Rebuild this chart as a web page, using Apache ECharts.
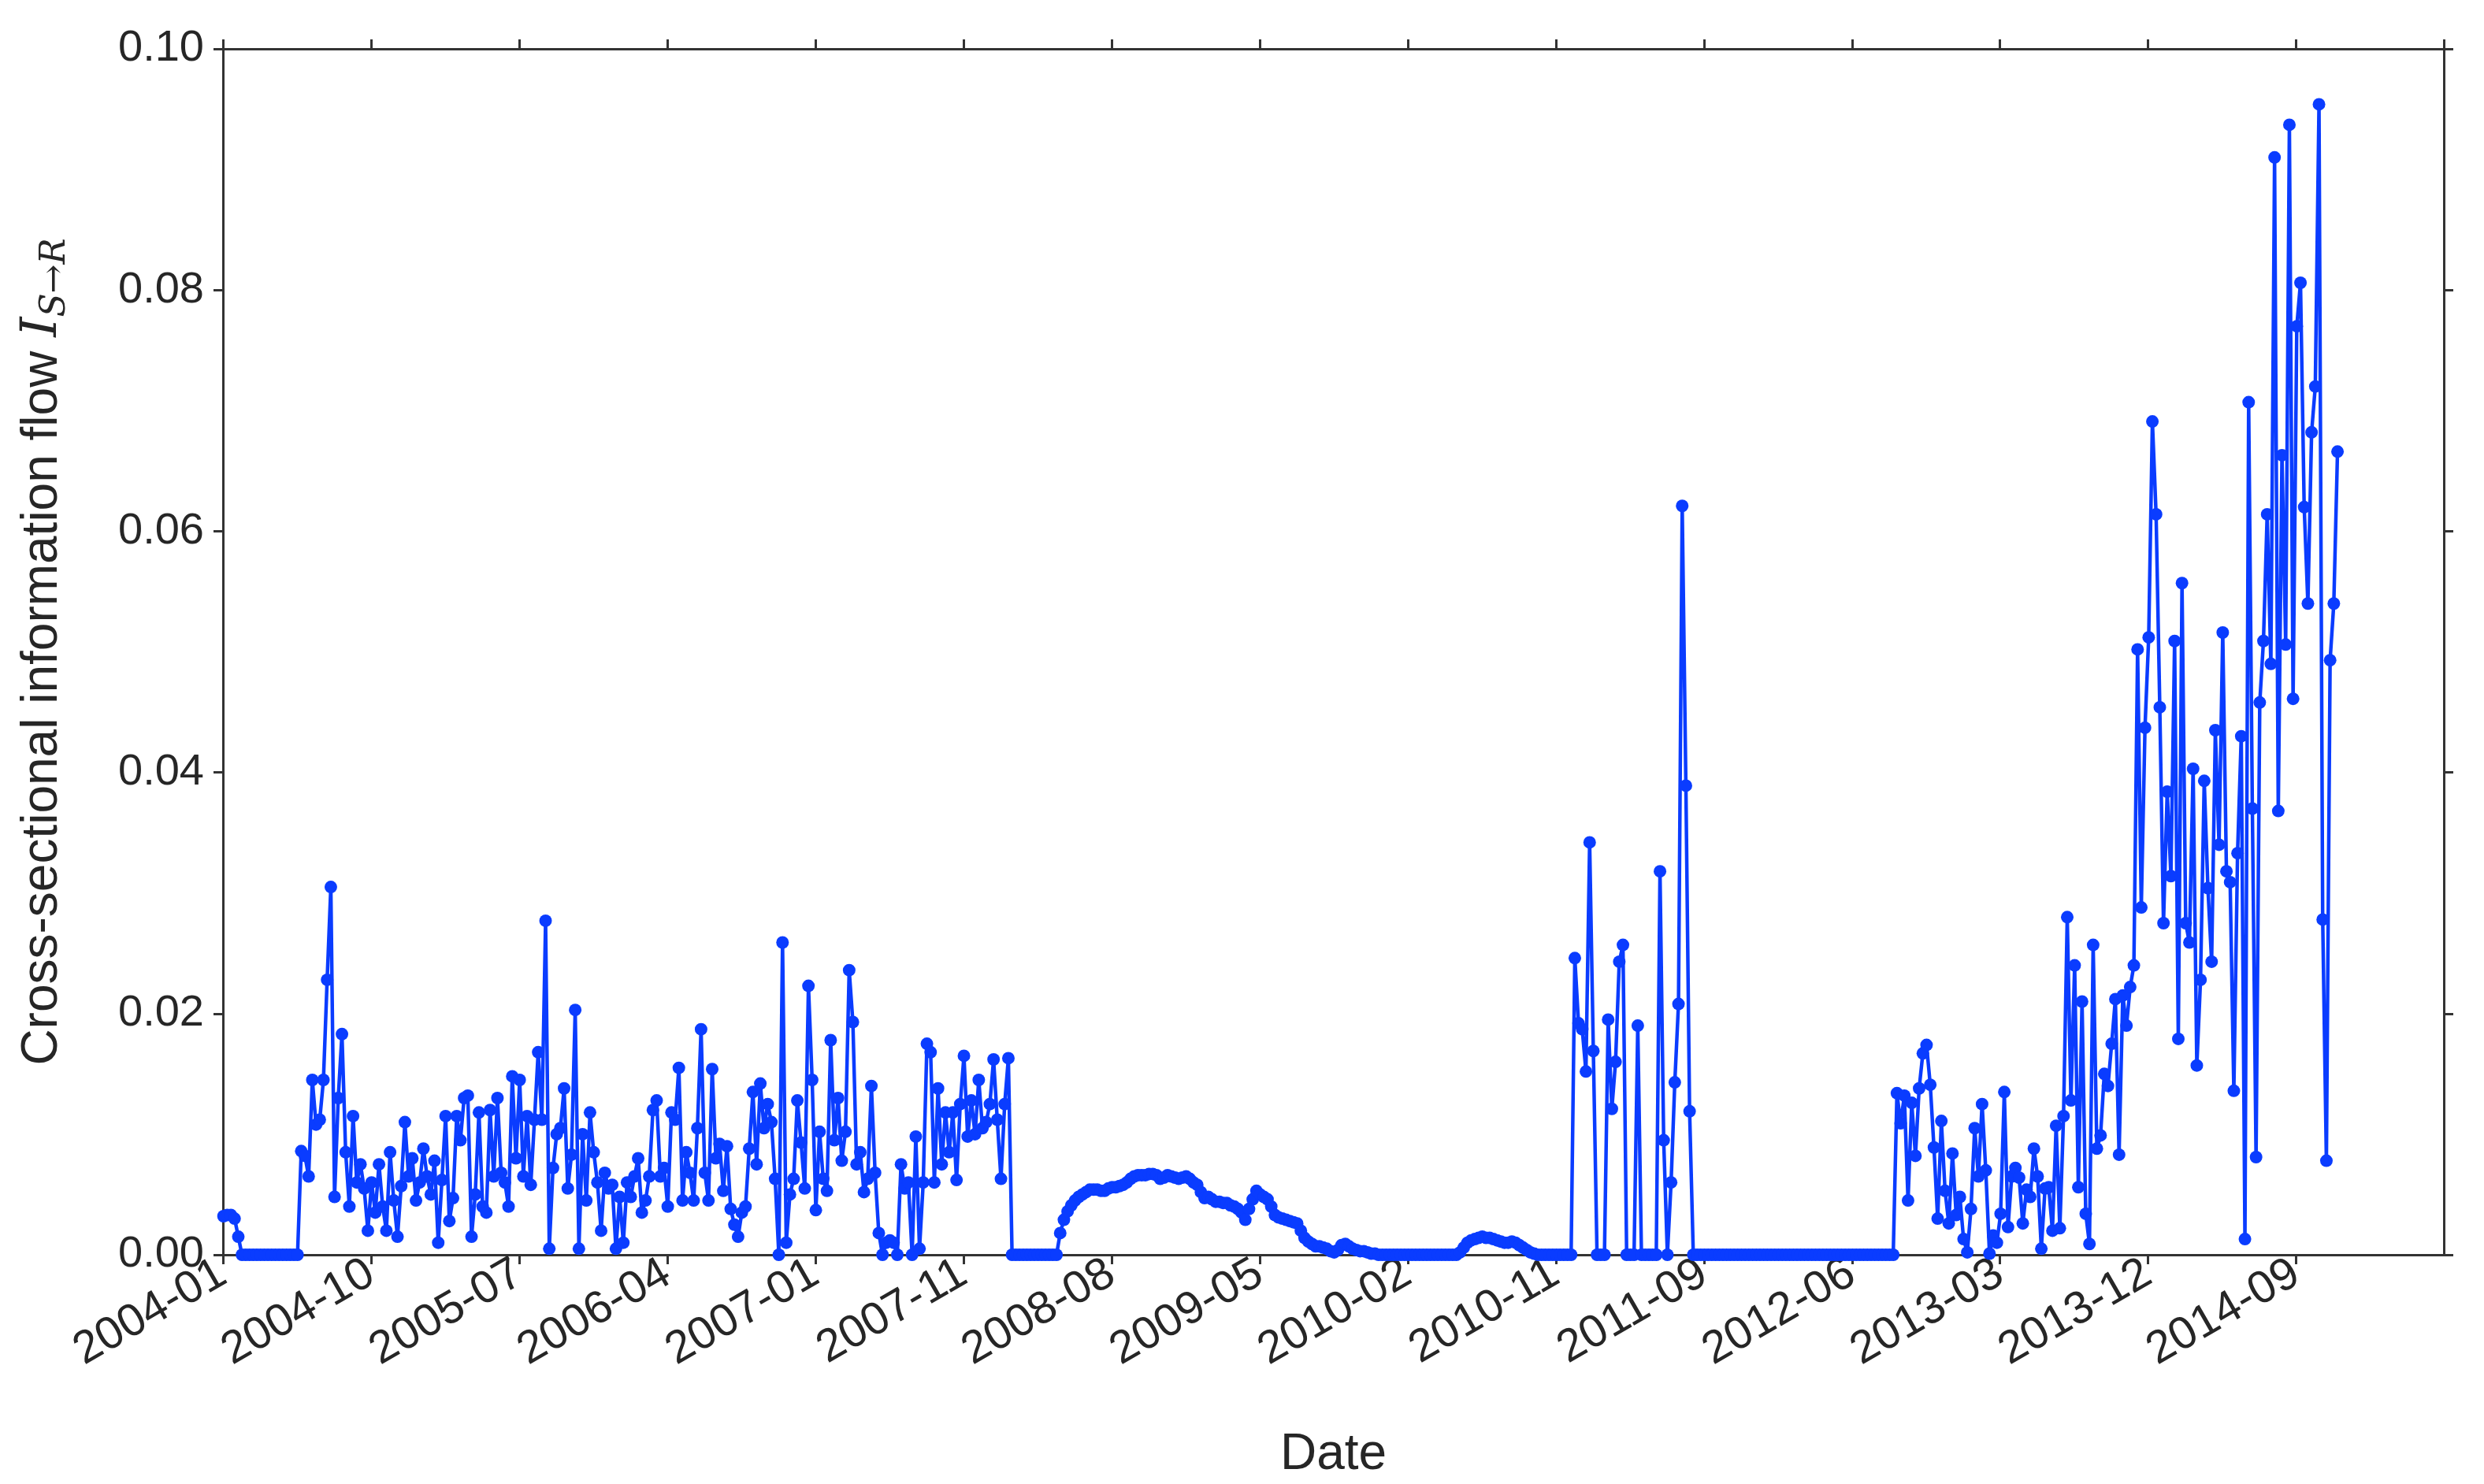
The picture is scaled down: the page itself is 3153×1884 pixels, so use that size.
<!DOCTYPE html>
<html>
<head>
<meta charset="utf-8">
<script src="https://cdn.jsdelivr.net/npm/echarts@6/dist/echarts.min.js"></script>
<style>
html, body { margin: 0; padding: 0; background: #fff; }
#chart { width: 3153px; height: 1884px; }
</style>
</head>
<body>
<div id="chart"></div>
<script>
// weekly observations, first one on 2004-01-02; each block gives its first week index
var startDate = Date.UTC(2004, 0, 1);
var firstWeekDay = 1;

var block2004 = [0.0032, 0.0033, 0.0033, 0.0030, 0.0015];
var noisyStart = 21;
var noisy2004 = [
    0.0086, 0.0082, 0.0065, 0.0145, 0.0108, 0.0112, 0.0145,
    0.0228, 0.0305, 0.0048, 0.013, 0.0183,
    0.0085, 0.004, 0.0115, 0.006, 0.0075, 0.0055, 0.002, 0.006, 0.0035, 0.0075, 0.004, 0.002, 0.0085, 0.0045, 0.0015, 0.0057, 0.011, 0.0065, 0.008, 0.0045, 0.006, 0.0088, 0.0065,
    0.005, 0.0078, 0.001, 0.0062, 0.0115, 0.0028, 0.0047, 0.0115, 0.0095, 0.013, 0.0132, 0.0015, 0.005, 0.0118, 0.004, 0.0035, 0.012, 0.0065, 0.013, 0.0068, 0.006, 0.004, 0.0148, 0.008, 0.0145, 0.0065, 0.0115, 0.0058, 0.0112, 0.0168, 0.0112,
    0.0277,
    0.0005, 0.0072, 0.01, 0.0105, 0.0138, 0.0055, 0.0083,
    0.0203,
    0.0005, 0.01, 0.0045, 0.0118, 0.0085, 0.006, 0.002, 0.0068, 0.0055, 0.0058, 0.0005, 0.0048, 0.001, 0.006, 0.0048, 0.0065, 0.008, 0.0035, 0.0045, 0.0065, 0.012, 0.0128, 0.0065, 0.0072, 0.004, 0.0118, 0.0112, 0.0155, 0.0045, 0.0085, 0.0068, 0.0045, 0.0105,
    0.0187,
    0.0068, 0.0045, 0.0154, 0.008, 0.0092, 0.0053, 0.009, 0.0038, 0.0025, 0.0015, 0.0035, 0.004, 0.0088, 0.0135, 0.0075, 0.0142, 0.0105, 0.0125, 0.011, 0.0063, 0.0,
    0.0259,
    0.001, 0.005, 0.0063, 0.0128, 0.0093, 0.0055,
    0.0223,
    0.0145, 0.0037, 0.0102, 0.0063, 0.0053, 0.0178, 0.0095, 0.013, 0.0078, 0.0102,
    0.0236, 0.0193,
    0.0075, 0.0085, 0.0052, 0.0063, 0.014, 0.0068,
    0.0018, 0, 0.001, 0.0012, 0.001, 0, 0.0075, 0.0055, 0.006,
    0.0, 0.0098, 0.0005, 0.006,
    0.0175,
    0.0168, 0.006, 0.0138, 0.0075, 0.0118, 0.0085, 0.0118, 0.0062, 0.0125,
    0.0165,
    0.0098, 0.0128, 0.010, 0.0145, 0.0105, 0.011, 0.0125,
    0.0162,
    0.0112, 0.0063, 0.0125,
    0.0163
];
var humpStart = 226;
var hump2008 = [
    0.0018,
    0.0029, 0.0036, 0.0041, 0.0045, 0.0048,
    0.005, 0.0052, 0.0054, 0.0054, 0.0054, 0.0053, 0.0053, 0.0055, 0.0056,
    0.0056, 0.0057, 0.0058, 0.006, 0.0063, 0.0065, 0.0066, 0.0066, 0.0066, 0.0067,
    0.0067, 0.0066, 0.0063, 0.0064, 0.0066, 0.0065, 0.0064, 0.0063, 0.0064, 0.0065,
    0.0063, 0.006, 0.0058, 0.0052, 0.0047, 0.0048, 0.0046, 0.0044, 0.0044, 0.0043,
    0.0043, 0.0041, 0.004, 0.0038, 0.0035, 0.0029, 0.0038, 0.0046, 0.0053, 0.005,
    0.0048, 0.0046, 0.004, 0.0033, 0.0031, 0.003, 0.0029, 0.0028, 0.0027, 0.0026,
    0.002, 0.0014, 0.0011, 0.0009, 0.0007, 0.0007, 0.0006, 0.0005, 0.0003, 0.0002,
    0.0004, 0.0008, 0.0009, 0.0007, 0.0005, 0.0004, 0.0003, 0.0003, 0.0002, 0.0001, 0.0001, 0, 0, 0
];
var bumpStart = 334;
var bump2010 = [0.0002, 0.0006, 0.001, 0.0012, 0.0013, 0.0014, 0.0015, 0.0014, 0.0014, 0.0013, 0.0012,
    0.0011, 0.001, 0.001, 0.0011, 0.001, 0.0008, 0.0006, 0.0004, 0.0002, 0.0001, 0];
var spikeStart = 365;
var spikes2011 = [0.0246, 0.0192, 0.0187, 0.0152, 0.0342, 0.0169, 0, 0, 0, 0.0195, 0.0121, 0.016, 0.0243, 0.0257,
    0, 0, 0, 0.019, 0, 0, 0, 0, 0, 0.0318, 0.0095, 0, 0.006, 0.0143, 0.0208, 0.0621, 0.0389, 0.0119];
var lateStart = 452;
var late2012 = [
    0.0134, 0.0109, 0.0132, 0.0045, 0.0126, 0.0082, 0.0138, 0.0167, 0.0174, 0.0141,
    0.0089, 0.003, 0.0111, 0.0053, 0.0026, 0.0084, 0.0033, 0.0048, 0.0013, 0.0002,
    0.0038, 0.0105, 0.0065, 0.0125, 0.007, 0.0001, 0.0016, 0.001, 0.0034, 0.0135,
    0.0023, 0.0065, 0.0072, 0.0064, 0.0026, 0.0054, 0.0048, 0.0088, 0.0065, 0.0005,
    0.0055, 0.0056, 0.002, 0.0107, 0.0022, 0.0115, 0.028, 0.0128, 0.024, 0.0056,
    0.021, 0.0034, 0.0009, 0.0257, 0.0088, 0.0099, 0.015, 0.014, 0.0175, 0.0212,
    0.0083, 0.0215, 0.019, 0.0222, 0.024
];
var lastStart = 517;
var last2014 = [
    0.0502, 0.0288, 0.0437, 0.0512, 0.0691, 0.0614, 0.0454, 0.0275, 0.0384, 0.0314,
    0.0509, 0.0179, 0.0557, 0.0275, 0.0259, 0.0403, 0.0157, 0.0228, 0.0393, 0.0304,
    0.0243, 0.0435, 0.034, 0.0516, 0.0318, 0.0309, 0.0136, 0.0333, 0.043, 0.0013,
    0.0707, 0.037, 0.0081, 0.0458, 0.0509, 0.0614, 0.049, 0.091, 0.0368, 0.0663,
    0.0506, 0.0937, 0.0461, 0.077, 0.0806, 0.062, 0.054, 0.0682, 0.072, 0.0954,
    0.0278, 0.0078, 0.0493, 0.054, 0.0666
];
var yTicks = [0, 0.02, 0.04, 0.06, 0.08, 0.1];

var blocks = [
    [0, block2004], [noisyStart, noisy2004], [humpStart, hump2008], [bumpStart, bump2010],
    [spikeStart, spikes2011], [lateStart, late2012], [lastStart, last2014]
];
var lastWeek = lastStart + last2014.length - 1;
var weekly = [];
for (var w = 0; w <= lastWeek; w++) weekly.push(0);   // weeks outside the blocks sit at zero
blocks.forEach(function (b) {
    b[1].forEach(function (v, i) { weekly[b[0] + i] = v; });
});
var points = weekly.map(function (v, i) { return [firstWeekDay + 7 * i, v]; });

function dayLabel(d) {
    var t = new Date(startDate + d * 86400000);
    var m = t.getUTCMonth() + 1;
    return t.getUTCFullYear() + '-' + (m < 10 ? '0' + m : m);
}

var frame = '#333333';
var ink = '#262626';
var chart = echarts.init(document.getElementById('chart'));
var option = {
    backgroundColor: '#ffffff',
    animation: false,
    textStyle: { fontFamily: 'Liberation Sans, Arial, sans-serif' },
    grid: { left: 283, right: 51, top: 62, bottom: 285 },
    xAxis: [{
        type: 'value',
        min: 0,
        max: 4199,
        interval: 280,
        name: 'Date',
        nameLocation: 'middle',
        nameGap: 222,
        nameTextStyle: { fontSize: 64, color: ink },
        axisLine: { onZero: false, lineStyle: { color: frame, width: 3 } },
        axisTick: { show: true, length: 12, lineStyle: { color: frame, width: 3 } },
        axisLabel: {
            rotate: 30, fontSize: 58, color: ink, margin: 20,
            showMaxLabel: false,
            formatter: function (v) { return dayLabel(v); }
        },
        splitLine: { show: false }
    }, {
        type: 'value', position: 'top', min: 0, max: 4199, interval: 280,
        axisLine: { show: true, onZero: false, lineStyle: { color: frame, width: 3 } },
        axisTick: { show: true, length: 12, lineStyle: { color: frame, width: 3 } },
        axisLabel: { show: false },
        splitLine: { show: false }
    }],
    yAxis: [{
        type: 'value',
        min: 0,
        max: 0.1,
        interval: 0.02,
        name: '{t|Cross-sectional information flow }{i|I}{s|S→R}',
        nameLocation: 'middle',
        nameGap: 190,
        nameTextStyle: {
            rich: {
                t: { fontSize: 64, color: ink, fontFamily: 'Liberation Sans' },
                i: { fontSize: 64, color: ink, fontFamily: 'DejaVu Serif', fontStyle: 'italic' },
                s: { fontSize: 44, color: ink, fontFamily: 'DejaVu Serif', fontStyle: 'italic', verticalAlign: 'bottom', padding: [34, 0, 0, 0] }
            }
        },
        axisLine: { show: true, onZero: false, lineStyle: { color: frame, width: 3 } },
        axisTick: { show: true, length: 12, lineStyle: { color: frame, width: 3 } },
        axisLabel: {
            fontSize: 56, color: ink, margin: 24,
            formatter: function (v) {
                var k = yTicks.indexOf(Math.round(v * 100) / 100);
                return (k >= 0 ? yTicks[k] : v).toFixed(2);
            }
        },
        splitLine: { show: false }
    }, {
        type: 'value', position: 'right', min: 0, max: 0.1, interval: 0.02,
        axisLine: { show: true, onZero: false, lineStyle: { color: frame, width: 3 } },
        axisTick: { show: true, length: 12, lineStyle: { color: frame, width: 3 } },
        axisLabel: { show: false },
        splitLine: { show: false }
    }],
    series: [{
        type: 'line',
        data: points,
        symbol: 'circle',
        symbolSize: 16,
        showAllSymbol: true,
        itemStyle: { color: '#0a3cff' },
        lineStyle: { color: '#0a3cff', width: 4.5 },
        z: 3
    }]
};
chart.setOption(option);
</script>
</body>
</html>
